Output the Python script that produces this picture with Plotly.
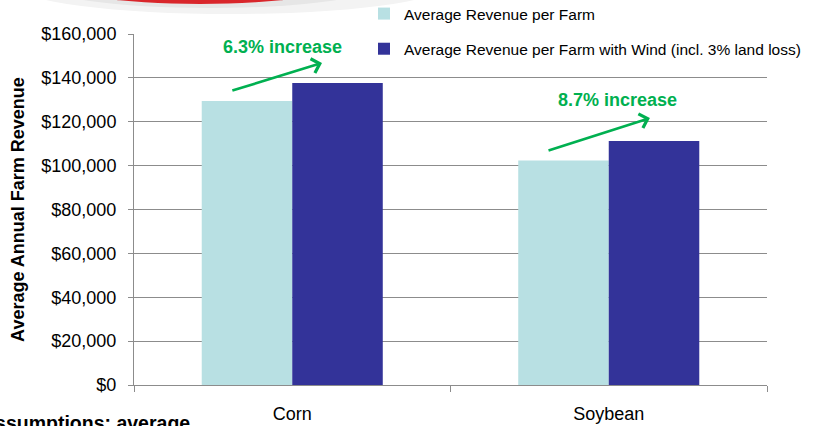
import plotly.graph_objects as go

crops = ["Corn", "Soybean"]
rev_base = [129500, 102300]
rev_wind = [137700, 111200]
series_names = ["Average Revenue per Farm",
                "Average Revenue per Farm with Wind (incl. 3% land loss)"]
y_ticks = [0, 20000, 40000, 60000, 80000, 100000, 120000, 140000, 160000]
y_tick_labels = ["$0", "$20,000", "$40,000", "$60,000", "$80,000",
                 "$100,000", "$120,000", "$140,000", "$160,000"]

W, H = 814, 426
L, R, T, B = 134, 767, 34, 385


def px_x(p):
    return (p - L) / (R - L)


def px_y(p):
    return (B - p) / (B - T)


FONT = "Liberation Sans, Arial, sans-serif"
GREEN = "#00B050"
GRID = "#8c8c8c"

fig = go.Figure()
fig.add_trace(go.Bar(x=crops, y=rev_base, name=series_names[0],
                     marker=dict(color="#B8E0E3", line=dict(width=0)),
                     legendgroup="a"))
fig.add_trace(go.Bar(x=crops, y=rev_wind, name=series_names[1],
                     marker=dict(color="#333399", line=dict(width=0)),
                     legendgroup="b"))

# increase annotations (text from data)
pct = [(w / b - 1) * 100 for b, w in zip(rev_base, rev_wind)]
label_pos = [(-0.032, 154000), (1.029, 130000)]
arrow_tail = [(-0.194, 134000), (0.805, 106700)]
arrow_head = [(0.094, 146800), (1.130, 121700)]

annotations = []
for i in range(len(crops)):
    annotations.append(dict(x=label_pos[i][0], y=label_pos[i][1], xref="x", yref="y",
                            text=f"<b>{pct[i]:.1f}% increase</b>", showarrow=False,
                            font=dict(family=FONT, size=18, color=GREEN)))
    annotations.append(dict(x=arrow_head[i][0], y=arrow_head[i][1], xref="x", yref="y",
                            ax=arrow_tail[i][0], ay=arrow_tail[i][1], axref="x", ayref="y",
                            text="", showarrow=True, arrowhead=4, arrowsize=1.1,
                            arrowwidth=2.6, arrowcolor=GREEN, standoff=0))

annotations.append(dict(x=px_x(192), y=px_y(423), xref="paper", yref="paper",
                        xanchor="right", yanchor="middle", showarrow=False,
                        text="<b>Assumptions: average</b>",
                        font=dict(family=FONT, size=19.5, color="#000000")))

shapes = [
    dict(type="circle", xref="paper", yref="paper",
         x0=px_x(20), x1=px_x(440), y0=px_y(-40), y1=px_y(14),
         fillcolor="#f3f3f3", line=dict(width=0), layer="below"),
    dict(type="circle", xref="paper", yref="paper",
         x0=px_x(40), x1=px_x(380), y0=px_y(-40), y1=px_y(8),
         fillcolor="#e6e6e6", line=dict(width=0), layer="below"),
    dict(type="circle", xref="paper", yref="paper",
         x0=px_x(55), x1=px_x(345), y0=px_y(-40), y1=px_y(4),
         fillcolor="#d9262b", line=dict(width=0), layer="below"),
]

fig.update_layout(
    width=W, height=H,
    margin=dict(l=L, r=W - R, t=T, b=H - B, autoexpand=False),
    paper_bgcolor="white", plot_bgcolor="white",
    font=dict(family=FONT, size=18, color="#000000"),
    barmode="group", bargap=0.428, bargroupgap=0,
    showlegend=True,
    legend=dict(x=px_x(364), y=px_y(-3), xanchor="left", yanchor="top",
                orientation="v", bgcolor="rgba(0,0,0,0)",
                font=dict(family=FONT, size=15.5, color="#000000"),
                traceorder="grouped", tracegroupgap=12),
    annotations=annotations,
    shapes=shapes,
    xaxis=dict(range=[-0.5, 1.5], tickson="boundaries", ticks="outside", ticklen=6,
               tickcolor=GRID, showline=True, linecolor=GRID, linewidth=1,
               showgrid=False, ticklabelstandoff=12,
               tickfont=dict(family=FONT, size=18), automargin=False),
    yaxis=dict(range=[0, 160000], tickvals=y_ticks, ticktext=y_tick_labels,
               ticks="outside", ticklen=5, tickcolor=GRID, showline=True,
               linecolor=GRID, linewidth=1, showgrid=True, gridcolor=GRID,
               gridwidth=1, zeroline=False, ticklabelstandoff=8,
               tickfont=dict(family=FONT, size=18), automargin=False,
               title=dict(text="<b>Average Annual Farm Revenue</b>", standoff=12,
                          font=dict(family=FONT, size=18))),
)

fig.write_html("out.html", config={"displayModeBar": False},
               post_script="document.body.style.margin='0';document.body.style.overflow='hidden';")
